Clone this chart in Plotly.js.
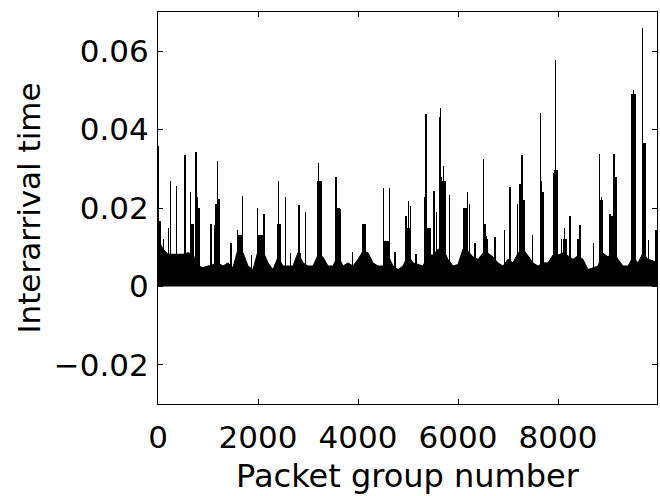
<!DOCTYPE html>
<html>
<head>
<meta charset="utf-8">
<script src="https://cdn.plot.ly/plotly-3.0.1.min.js"></script>
<style>html,body{margin:0;padding:0;background:#fff;}#chart{width:660px;height:496px;}</style>
</head>
<body>
<div id="chart"></div>
<script>
// Solid "floor" level of the dense series, sampled every 100 packet groups
const floorX = [0,100,200,300,400,500,600,700,800,900,1000,1100,1200,1300,1400,1500,1600,1700,1800,1900,
  2000,2100,2200,2300,2400,2500,2600,2700,2800,2900,3000,3100,3200,3300,3400,3500,3600,3700,3800,3900,
  4000,4100,4200,4300,4400,4500,4600,4700,4800,4900,5000,5100,5200,5300,5400,5500,5600,5700,5800,5900,
  6000,6100,6200,6300,6400,6500,6600,6700,6800,6900,7000,7100,7200,7300,7400,7500,7600,7700,7800,7900,
  8000,8100,8200,8300,8400,8500,8600,8700,8800,8900,9000,9100,9200,9300,9400,9500,9600,9700,9800,9900,9980];
const floorY = [0.012,0.0095,0.0082,0.0082,0.0082,0.0082,0.0086,0.0082,0.0052,0.0048,0.0052,0.0056,0.006,0.0052,0.006,0.0048,0.0095,0.0086,0.0052,0.0043,
  0.009,0.009,0.006,0.0043,0.0075,0.0052,0.0052,0.0052,0.0086,0.006,0.0052,0.0052,0.008,0.0075,0.0052,0.0052,0.008,0.0052,0.006,0.0052,
  0.0069,0.009,0.0086,0.006,0.0052,0.0052,0.008,0.0052,0.0043,0.0052,0.008,0.006,0.0056,0.0052,0.008,0.008,0.0095,0.0095,0.0069,0.0052,
  0.0056,0.0095,0.009,0.0075,0.0069,0.0085,0.0085,0.0075,0.006,0.0052,0.0069,0.006,0.0085,0.0095,0.0078,0.006,0.0052,0.006,0.006,0.008,
  0.008,0.0085,0.0078,0.0069,0.0078,0.0069,0.0043,0.0048,0.0052,0.0085,0.0075,0.009,0.0069,0.0052,0.0052,0.0075,0.006,0.0085,0.0069,0.0065,0.006];

// Dense bursts (thick black blocks)
const burstX = [20,680,800,1180,1640,2050,2420,2820,3230,3600,4120,4570,4990,5410,5660,5720,6140,6550,7290,7680,7940,8140,8420,8860,9110,9510,9715];
const burstY = [0.0166,0.016,0.02,0.021,0.013,0.013,0.016,0.0085,0.027,0.02,0.0158,0.0117,0.015,0.015,0.024,0.027,0.02,0.012,0.022,0.024,0.029,0.012,0.012,0.022,0.018,0.049,0.0367];

// Individual large interarrival times (thin spikes)
const spikeX = [7,107,207,253,373,540,653,707,760,793,1060,1140,1187,1220,1460,1587,1640,1693,1873,1987,
  2027,2120,2407,2440,2553,2653,2820,2953,3207,3253,3560,3640,3893,4107,4507,4573,4627,4740,
  4960,5007,5053,5160,5340,5360,5440,5520,5573,5627,5647,5673,5707,5827,6107,6187,6227,6340,6507,6540,6573,6740,
  6927,7040,7187,7240,7280,7327,7487,7653,7673,7707,7907,7927,7953,7980,8073,8127,8240,8440,8707,8827,
  8873,9040,9120,9160,9507,9687,9740,9807,9960];
const spikeY = [0.0357,0.012,0.015,0.027,0.0255,0.0334,0.024,0.016,0.0342,0.0227,0.016,0.0157,0.032,0.0222,0.011,0.0143,0.0105,0.023,0.008,0.02,
  0.013,0.0184,0.027,0.016,0.0227,0.0085,0.0207,0.019,0.0316,0.027,0.0278,0.0197,0.0087,0.0158,0.0252,0.0117,0.025,0.0089,
  0.018,0.0217,0.0205,0.0082,0.0227,0.044,0.015,0.0243,0.019,0.0432,0.0456,0.0278,0.0307,0.0232,0.0188,0.024,0.021,0.011,0.0326,0.016,0.0128,0.0125,
  0.0143,0.0253,0.021,0.026,0.0334,0.021,0.013,0.0443,0.0268,0.024,0.0184,0.0296,0.0577,0.0297,0.012,0.015,0.018,0.0157,0.011,0.0339,
  0.0228,0.0184,0.0337,0.028,0.05,0.066,0.0367,0.0118,0.0145];

const yTickVals = [-0.02, 0, 0.02, 0.04, 0.06];
const yTickText = ['\u22120.02', '0', '0.02', '0.04', '0.06'];
const xTickVals = [0, 2000, 4000, 6000, 8000];
const xTickText = ['0', '2000', '4000', '6000', '8000'];

const FONT = 'DejaVu Sans, sans-serif';

const traces = [
  {type: 'scatter', mode: 'lines', x: floorX, y: floorY, fill: 'tozeroy',
   fillcolor: '#000', line: {color: '#000', width: 1}, hoverinfo: 'skip'},
  {type: 'bar', x: burstX, y: burstY, width: 90, marker: {color: '#000', line: {width: 0}}},
  {type: 'bar', x: spikeX, y: spikeY, width: 24, marker: {color: '#000', line: {width: 0}}}
];

const axisCommon = {
  showline: true, linecolor: '#000', linewidth: 1, mirror: 'ticks',
  ticks: 'inside', ticklen: 5, tickcolor: '#000', tickwidth: 1,
  showgrid: false, zeroline: false,
  tickfont: {family: FONT, size: 31, color: '#000'}
};

const layout = {
  width: 660, height: 496,
  margin: {l: 158, r: 3, t: 12, b: 92},
  paper_bgcolor: '#fff', plot_bgcolor: '#fff',
  showlegend: false, barmode: 'overlay', bargap: 0,
  xaxis: Object.assign({}, axisCommon, {
    range: [0, 9980], tickmode: 'array', tickvals: xTickVals, ticktext: xTickText,
    ticklabelstandoff: 6,
    title: {text: 'Packet group number', font: {family: FONT, size: 32, color: '#000'}, standoff: 10}
  }),
  yaxis: Object.assign({}, axisCommon, {
    range: [-0.03, 0.07], tickmode: 'array', tickvals: yTickVals, ticktext: yTickText,
    ticklabelstandoff: 2,
    title: {text: 'Interarrival time', font: {family: FONT, size: 31, color: '#000'}, standoff: 3}
  })
};

Plotly.newPlot('chart', traces, layout, {displayModeBar: false, staticPlot: true});
</script>
</body>
</html>
